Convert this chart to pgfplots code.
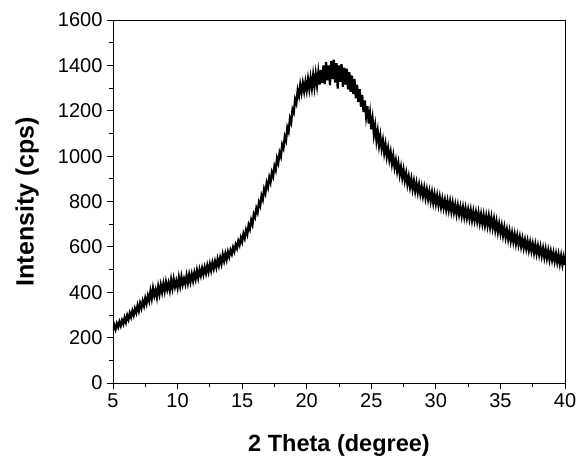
\documentclass[border=0pt]{standalone}
\usepackage{pgfplots}
\pgfplotsset{compat=1.18}
\usepackage{fontspec}
\setmainfont{Liberation Sans}
\pgfplotstableread{
x y
5.0 232
5.1 255
5.2 236
5.3 262
5.4 246
5.5 270
5.6 252
5.7 276
5.8 260
5.9 288
6.0 268
6.1 298
6.2 280
6.3 308
6.4 290
6.5 318
6.6 298
6.7 328
6.8 310
6.9 342
7.0 318
7.1 352
7.2 330
7.3 362
7.4 340
7.5 374
7.6 350
7.7 384
7.8 362
7.9 405
8.0 372
8.1 418
8.2 385
8.3 410
8.4 378
8.5 425
8.6 392
8.7 432
8.8 400
8.9 438
9.0 405
9.1 445
9.2 412
9.3 440
9.4 408
9.5 455
9.6 418
9.7 458
9.8 424
9.9 450
10.0 420
10.1 465
10.2 428
10.3 468
10.4 434
10.5 460
10.6 436
10.7 474
10.8 440
10.9 478
11.0 446
11.1 480
11.2 450
11.3 486
11.4 458
11.5 496
11.6 464
11.7 500
11.8 474
11.9 506
12.0 478
12.1 510
12.2 484
12.3 518
12.4 490
12.5 524
12.6 496
12.7 530
12.8 504
12.9 536
13.0 510
13.1 546
13.2 518
13.3 552
13.4 526
13.5 566
13.6 538
13.7 570
13.8 544
13.9 578
14.0 556
14.1 585
14.2 568
14.3 598
14.4 580
14.5 610
14.6 594
14.7 626
14.8 608
14.9 640
15.0 622
15.1 658
15.2 638
15.3 674
15.4 655
15.5 696
15.6 678
15.7 718
15.8 698
15.9 744
16.0 730
16.1 770
16.2 752
16.3 796
16.4 780
16.5 826
16.6 808
16.7 855
16.8 836
16.9 882
17.0 862
17.1 906
17.2 884
17.3 928
17.4 910
17.5 956
17.6 938
17.7 990
17.8 970
17.9 1016
18.0 998
18.1 1050
18.2 1034
18.3 1086
18.4 1068
18.5 1126
18.6 1108
18.7 1166
18.8 1148
18.9 1206
19.0 1192
19.1 1250
19.2 1232
19.3 1290
19.4 1265
19.5 1315
19.6 1280
19.7 1322
19.8 1285
19.9 1328
20.0 1290
20.1 1340
20.2 1296
20.3 1345
20.4 1300
20.5 1358
20.6 1306
20.7 1362
20.8 1312
20.9 1370
21.0 1316
21.1 1380
21.2 1322
21.3 1400
21.4 1318
21.5 1415
21.6 1334
21.7 1400
21.8 1312
21.9 1420
22.0 1340
22.1 1425
22.2 1324
22.3 1410
22.4 1298
22.5 1400
22.6 1328
22.7 1405
22.8 1305
22.9 1390
23.0 1315
23.1 1385
23.2 1294
23.3 1370
23.4 1284
23.5 1355
23.6 1274
23.7 1340
23.8 1255
23.9 1315
24.0 1238
24.1 1295
24.2 1218
24.3 1270
24.4 1194
24.5 1245
24.6 1174
24.7 1220
24.8 1144
24.9 1190
25.0 1118
25.1 1165
25.2 1094
25.3 1135
25.4 1068
25.5 1110
25.6 1048
25.7 1090
25.8 1034
25.9 1070
26.0 1014
26.1 1052
26.2 998
26.3 1035
26.4 984
26.5 1018
26.6 966
26.7 1002
26.8 950
26.9 982
27.0 934
27.1 970
27.2 918
27.3 952
27.4 904
27.5 940
27.6 892
27.7 925
27.8 876
27.9 910
28.0 864
28.1 900
28.2 854
28.3 890
28.4 846
28.5 882
28.6 840
28.7 874
28.8 832
28.9 865
29.0 824
29.1 860
29.2 816
29.3 852
29.4 810
29.5 845
29.6 802
29.7 840
29.8 794
29.9 832
30.0 790
30.1 826
30.2 784
30.3 820
30.4 776
30.5 812
30.6 772
30.7 806
30.8 764
30.9 802
31.0 762
31.1 800
31.2 756
31.3 794
31.4 752
31.5 786
31.6 744
31.7 782
31.8 742
31.9 776
32.0 736
32.1 774
32.2 732
32.3 770
32.4 728
32.5 764
32.6 724
32.7 762
32.8 718
32.9 756
33.0 716
33.1 752
33.2 712
33.3 750
33.4 706
33.5 744
33.6 702
33.7 740
33.8 696
33.9 735
34.0 694
34.1 736
34.2 688
34.3 730
34.4 684
34.5 722
34.6 674
34.7 712
34.8 666
34.9 702
35.0 660
35.1 694
35.2 650
35.3 686
35.4 642
35.5 676
35.6 634
35.7 670
35.8 626
35.9 662
36.0 622
36.1 656
36.2 614
36.3 650
36.4 610
36.5 644
36.6 602
36.7 636
36.8 596
36.9 630
37.0 592
37.1 626
37.2 586
37.3 620
37.4 582
37.5 614
37.6 574
37.7 610
37.8 570
37.9 604
38.0 566
38.1 600
38.2 560
38.3 594
38.4 554
38.5 590
38.6 550
38.7 584
38.8 544
38.9 580
39.0 542
39.1 574
39.2 536
39.3 570
39.4 532
39.5 566
39.6 526
39.7 562
39.8 522
39.9 556
40.0 520
}\xrd
\begin{document}
\begin{tikzpicture}
\begin{axis}[
  scale only axis,
  width=452pt, height=363pt,
  xmin=5, xmax=40, ymin=0, ymax=1600,
  xtick={5,10,...,40}, ytick={0,200,...,1600},
  minor x tick num=1, minor y tick num=1,
  tick align=outside,
  xtick pos=bottom, ytick pos=left,
  major tick length=6pt, minor tick length=4pt,
  every tick/.style={black, line width=0.8pt},
  axis line style={line width=0.8pt},
  /pgf/number format/assume math mode=true,
  /pgf/number format/1000 sep={},
  tick label style={font=\fontsize{20}{22}\selectfont},
  xticklabel style={yshift=-1pt},
  yticklabel style={xshift=-1pt},
  xlabel={2 Theta (degree)},
  ylabel={Intensity (cps)},
  xlabel style={font=\fontsize{23.5}{27}\selectfont\bfseries, at={(axis description cs:0.5,-0.171)}, anchor=center},
  ylabel style={font=\fontsize{25}{29}\selectfont\bfseries, at={(axis description cs:-0.19,0.5)}, anchor=center},
  clip=true,
]
\addplot[black, line width=2.2pt] table[x=x, y=y] {\xrd};
\coordinate (ll) at (rel axis cs:0,0);
\coordinate (ur) at (rel axis cs:1,1);
\end{axis}
\pgfresetboundingbox
\path[use as bounding box] (ll) ++(-113pt,-80pt) rectangle ([shift={(16pt,20pt)}]ur);
\end{tikzpicture}
\end{document}
